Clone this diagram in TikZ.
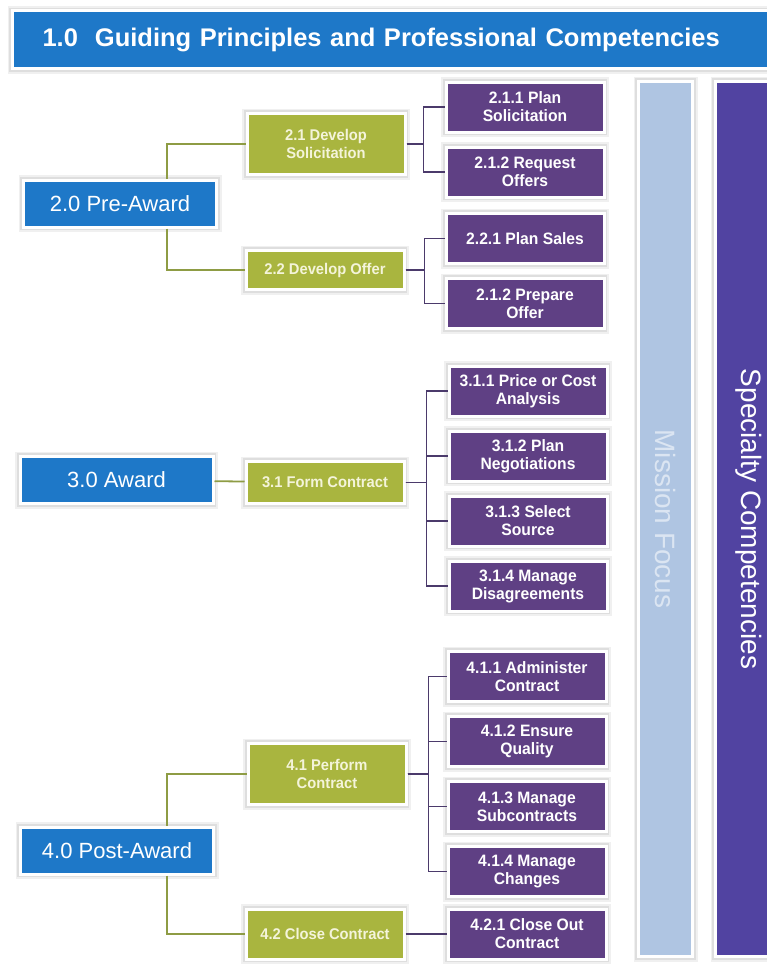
\documentclass[tikz,border=0pt]{standalone}
\usepackage{fontspec}
\setmainfont{Liberation Sans}
\newfontfamily\narrowsf[FakeStretch=0.95]{Liberation Sans}
\usepackage{xcolor}
\usetikzlibrary{positioning}

\definecolor{phaseblue}{HTML}{1E78C8}
\definecolor{procgreen}{HTML}{A9B53F}
\definecolor{proctext}{HTML}{F4F4DA}
\definecolor{taskpurple}{HTML}{5F4084}
\definecolor{missionblue}{HTML}{AFC5E2}
\definecolor{specialty}{HTML}{5143A1}
\definecolor{linkgreen}{HTML}{8E9C44}
\definecolor{linkpurple}{HTML}{4B3A6B}

\begin{document}
\begin{tikzpicture}[x=1pt, y=-1pt, node distance=12pt,
            box/.style={draw=white, line width=3pt, preaction={draw=black!6, line width=10pt}, preaction={draw=black!13, line width=6.5pt}, inner sep=2pt, align=center},
            title/.style={box, fill=phaseblue, text=white, minimum height=58pt, text width=740pt, inner xsep=30pt, align=left, font=\bfseries\fontsize{25.5}{30}\selectfont},
            phase/.style={box, fill=phaseblue, text=white, minimum width=193pt, minimum height=47pt, font=\fontsize{22}{26}\selectfont},
            proc/.style={box, fill=procgreen, text=proctext, minimum width=158pt, font=\narrowsf\bfseries\fontsize{15.5}{18}\selectfont},
            task/.style={box, fill=taskpurple, text=white, minimum width=158pt, minimum height=50pt, font=\narrowsf\bfseries\fontsize{16.5}{18}\selectfont},
            bar/.style={box, rotate=-90, minimum width=875pt, font=\fontsize{28}{32}\selectfont},
            link/.style={draw=linkgreen, line width=1.8pt},
            sublink/.style={draw=linkpurple, line width=1.8pt}]
    \useasboundingbox (0,0) rectangle (767,966);

    % Nodes
    \node[title, anchor=west] (guiding) at (11,40) {1.0\ \ Guiding Principles and Professional Competencies};

    \node[bar, fill=missionblue, text=white!55!missionblue, minimum height=54pt] (mission) at (665.5,519) {Mission Focus};
    \node[bar, fill=specialty, text=white, minimum height=67pt] (special) at (749,519) {Specialty Competencies};

    \node[phase] (preaward) at (120,203.5) {2.0 Pre-Award};
    \node[phase] (award) at (116.5,480) {3.0 Award};
    \node[phase] (postaward) at (117,850.5) {4.0 Post-Award};

    \node[proc, minimum height=61pt] (devsol) at (326,144) {2.1 Develop\\Solicitation};
    \node[proc, minimum height=39pt] (devoff) at (325,270) {2.2 Develop Offer};
    \node[proc, minimum height=42pt] (formct) at (325,482.5) {3.1 Form Contract};
    \node[proc, minimum height=61pt] (perfct) at (327,774) {4.1 Perform\\Contract};
    \node[proc, minimum height=50pt] (closect) at (325,934) {4.2 Close Contract};

    \node[task] (plansol) at (525,107) {2.1.1 Plan\\Solicitation};
    \node[task, below=of plansol] (reqoff) {2.1.2 Request\\Offers};
    \node[task] (plansale) at (525,238.5) {2.2.1 Plan Sales};
    \node[task, below=of plansale] (prepoff) {2.1.2 Prepare\\Offer};

    \node[task] (pricean) at (528,391) {3.1.1 Price or Cost\\Analysis};
    \node[task, below=of pricean] (plannego) {3.1.2 Plan\\Negotiations};
    \node[task, below=of plannego] (selsrc) {3.1.3 Select\\Source};
    \node[task, below=of selsrc] (mandis) {3.1.4 Manage\\Disagreements};

    \node[task] (admct) at (527,676.5) {4.1.1 Administer\\Contract};
    \node[task, below=of admct] (ensq) {4.1.2 Ensure\\Quality};
    \node[task, below=of ensq] (mansub) {4.1.3 Manage\\Subcontracts};
    \node[task, below=of mansub] (manchg) {4.1.4 Manage\\Changes};
    \node[task] (closeout) at (527,934) {4.2.1 Close Out\\Contract};

    % Edges
    \draw[link] ([xshift=47pt]preaward.north) |- (devsol);
    \draw[link] ([xshift=47pt]preaward.south) |- (devoff);
    \draw[link] (award) -- (formct);
    \draw[link] ([xshift=50pt]postaward.north) |- (perfct);
    \draw[link] ([xshift=50pt]postaward.south) |- (closect);

    \foreach \t in {plansol, reqoff}
        \draw[sublink] (devsol.east) -- ++(17,0) |- (\t);
    \foreach \t in {plansale, prepoff}
        \draw[sublink] (devoff.east) -- ++(19,0) |- (\t);
    \foreach \t in {pricean, plannego, selsrc, mandis}
        \draw[sublink] (formct.east) -- ++(21,0) |- (\t);
    \foreach \t in {admct, ensq, mansub, manchg}
        \draw[sublink] (perfct.east) -- ++(21,0) |- (\t);
    \draw[sublink] (closect) -- (closeout);
\end{tikzpicture}
\end{document}
